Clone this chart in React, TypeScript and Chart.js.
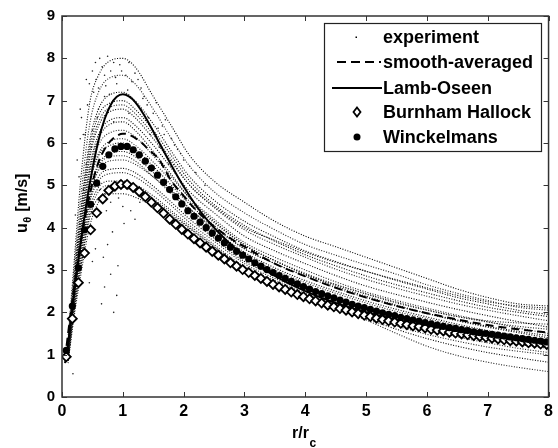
import React, { useEffect, useRef } from "react";
import { Chart, registerables } from "chart.js";
Chart.register(...registerables);

// ---------- data ----------
const xTicks = [0, 1, 2, 3, 4, 5, 6, 7, 8];
const yTicks = [0, 1, 2, 3, 4, 5, 6, 7, 8, 9];

// experiment: radial grid of the measured profiles
const rExp = [0.1, 0.2, 0.3, 0.45, 0.6, 0.8, 1.0, 1.2, 1.5, 1.8, 2.1, 2.5, 3, 3.5, 4, 4.5, 5, 5.5, 6, 6.5, 7, 7.5, 8];
const expA = [1.4, 3.2, 5.0, 6.9, 7.6, 7.95, 8.0, 7.8, 7.1, 6.4, 5.7, 5.1, 4.6, 4.15, 3.8, 3.55, 3.3, 3.05, 2.8, 2.55, 2.35, 2.2, 2.15];
const expB = [1.3, 3.0, 4.6, 6.4, 7.2, 7.55, 7.6, 7.4, 6.8, 6.1, 5.45, 4.85, 4.35, 3.95, 3.6, 3.35, 3.12, 2.9, 2.65, 2.45, 2.28, 2.12, 2.05];
const expC = [1.25, 2.8, 4.3, 6.0, 6.8, 7.15, 7.2, 7.0, 6.45, 5.8, 5.2, 4.65, 4.15, 3.78, 3.45, 3.2, 2.97, 2.75, 2.55, 2.35, 2.2, 2.05, 1.95];
const expD = [1.2, 2.7, 4.1, 5.7, 6.5, 6.85, 6.9, 6.7, 6.2, 5.6, 5.0, 4.48, 3.95, 3.6, 3.3, 3.02, 2.78, 2.57, 2.38, 2.2, 2.05, 1.92, 1.8];
const expE = [1.15, 2.6, 3.9, 5.4, 6.2, 6.55, 6.6, 6.42, 5.95, 5.4, 4.85, 4.35, 3.8, 3.45, 3.15, 2.87, 2.62, 2.42, 2.24, 2.07, 1.92, 1.78, 1.65];
const expF = [1.1, 2.5, 3.7, 5.2, 5.95, 6.25, 6.3, 6.15, 5.7, 5.2, 4.7, 4.2, 3.65, 3.3, 3.0, 2.72, 2.48, 2.28, 2.1, 1.93, 1.78, 1.63, 1.5];
const expG = [1.05, 2.4, 3.55, 5.0, 5.7, 5.95, 6.0, 5.85, 5.45, 5.0, 4.55, 4.05, 3.5, 3.15, 2.85, 2.58, 2.35, 2.15, 1.97, 1.8, 1.65, 1.52, 1.4];
const expH = [1.0, 2.3, 3.4, 4.8, 5.45, 5.68, 5.7, 5.58, 5.2, 4.8, 4.38, 3.9, 3.35, 3.0, 2.7, 2.45, 2.22, 2.02, 1.85, 1.68, 1.54, 1.42, 1.3];
const expI = [0.95, 2.2, 3.25, 4.6, 5.2, 5.38, 5.4, 5.3, 4.98, 4.6, 4.2, 3.75, 3.2, 2.88, 2.58, 2.33, 2.1, 1.9, 1.72, 1.56, 1.43, 1.31, 1.2];
const expJ = [0.9, 2.1, 3.1, 4.4, 4.95, 5.1, 5.1, 5.02, 4.75, 4.4, 4.05, 3.6, 3.08, 2.75, 2.45, 2.2, 1.98, 1.78, 1.58, 1.42, 1.28, 1.15, 1.05];
const expK = [0.85, 2.0, 2.95, 4.2, 4.7, 4.8, 4.8, 4.72, 4.5, 4.2, 3.9, 3.48, 2.98, 2.62, 2.32, 2.07, 1.85, 1.6, 1.38, 1.2, 1.05, 0.93, 0.82];
const expL = [0.8, 1.9, 2.8, 4.0, 4.6, 4.9, 4.95, 4.85, 4.6, 4.3, 3.98, 3.55, 3.05, 2.68, 2.38, 2.1, 1.82, 1.5, 1.2, 0.98, 0.82, 0.7, 0.6];
const expM = [1.2, 2.7, 4.0, 5.6, 6.4, 6.75, 6.8, 6.6, 6.1, 5.55, 5.0, 4.5, 4.0, 3.7, 3.42, 3.18, 2.97, 2.77, 2.58, 2.4, 2.25, 2.15, 2.1];
const expN = [1.0, 2.3, 3.4, 4.7, 5.35, 5.58, 5.6, 5.5, 5.2, 4.85, 4.45, 4.0, 3.5, 3.15, 2.88, 2.65, 2.43, 2.22, 2.05, 1.9, 1.8, 1.75, 1.72];
const expO = [1.1, 2.5, 3.8, 5.3, 6.1, 6.45, 6.5, 6.3, 5.8, 5.25, 4.7, 4.15, 3.6, 3.22, 2.9, 2.62, 2.38, 2.17, 1.98, 1.82, 1.67, 1.55, 1.45];
const expP = [1.05, 2.4, 3.6, 5.05, 5.75, 6.05, 6.1, 5.95, 5.55, 5.1, 4.62, 4.12, 3.58, 3.22, 2.92, 2.66, 2.44, 2.24, 2.06, 1.9, 1.77, 1.67, 1.6];
const expQ = [1.0, 2.3, 3.45, 4.85, 5.5, 5.75, 5.8, 5.68, 5.3, 4.88, 4.45, 3.95, 3.42, 3.05, 2.75, 2.5, 2.27, 2.07, 1.89, 1.72, 1.57, 1.45, 1.35];
const expR = [0.95, 2.15, 3.2, 4.55, 5.1, 5.28, 5.3, 5.2, 4.9, 4.52, 4.12, 3.68, 3.15, 2.8, 2.5, 2.24, 2.02, 1.82, 1.64, 1.48, 1.35, 1.24, 1.15];
const expS = [1.2, 2.75, 4.2, 5.85, 6.65, 6.95, 7.0, 6.8, 6.3, 5.7, 5.1, 4.55, 4.05, 3.68, 3.36, 3.1, 2.86, 2.65, 2.46, 2.28, 2.12, 2.0, 1.9];
const expT = [0.9, 2.05, 3.0, 4.3, 4.85, 5.0, 5.0, 4.92, 4.68, 4.35, 4.0, 3.55, 3.03, 2.68, 2.38, 2.12, 1.9, 1.68, 1.48, 1.32, 1.18, 1.08, 1.0];
const expProfiles = [expA, expB, expC, expD, expE, expF, expG, expH, expI, expJ, expK, expL, expM, expN, expO, expP, expQ, expR, expS, expT];

// scattered experiment points (outliers)
const noiseR = [0.25, 0.3, 0.32, 0.35, 0.4, 0.45, 0.5, 0.55, 0.6, 0.62, 0.7, 0.75, 0.8, 0.85, 0.9, 0.95, 1.05, 1.1, 1.15, 1.2,
  1.3, 1.35, 1.4, 1.5, 1.55, 1.65, 1.7, 1.8, 1.9, 2.0, 0.65, 0.7, 0.8, 0.85, 0.9, 0.5, 0.45, 0.55, 0.92, 0.75,
  0.18, 0.6, 0.8, 1.0, 1.2, 0.4, 0.5, 0.6, 0.7, 1.3, 1.1, 0.85, 1.45, 1.6, 1.75, 0.22, 0.28, 0.38, 0.68, 1.02,
  0.42, 0.52, 0.58, 0.66, 0.72, 0.78, 0.88, 0.98, 1.08, 1.18, 1.25, 1.33, 1.42, 1.58, 1.68, 1.85, 1.95, 2.1, 2.2, 2.35,
  0.35, 0.48, 0.63, 0.73, 0.83, 0.93, 1.13, 1.28, 0.3, 0.56];
const noiseV = [5.6, 6.8, 6.6, 4.9, 7.5, 7.4, 7.7, 7.9, 7.3, 8.0, 7.6, 8.05, 7.7, 7.9, 7.4, 7.85, 7.6, 7.9, 7.45, 7.65,
  7.3, 7.1, 6.9, 6.7, 6.95, 6.4, 6.55, 6.1, 5.85, 5.6, 2.2, 2.6, 2.9, 2.0, 2.4, 3.2, 2.7, 3.5, 3.1, 3.6,
  0.55, 4.4, 4.6, 4.5, 4.2, 5.5, 6.3, 6.8, 7.1, 6.8, 6.7, 6.5, 6.2, 5.9, 5.5, 4.3, 5.2, 6.2, 3.3, 4.1,
  6.9, 7.2, 6.6, 7.8, 7.35, 7.15, 7.55, 7.7, 7.25, 7.0, 7.5, 7.05, 6.6, 6.35, 6.2, 5.95, 5.75, 5.45, 5.3, 5.0,
  6.2, 5.9, 4.9, 4.4, 3.9, 4.7, 4.4, 4.6, 6.1, 7.5];

// smooth-averaged
const rAvg = [0.05, 0.1, 0.2, 0.3, 0.4, 0.5, 0.6, 0.7, 0.8, 0.9, 1.0, 1.1, 1.2, 1.3, 1.4, 1.5, 1.6, 1.7, 1.8, 2.0, 2.2, 2.4, 2.6, 2.8, 3.0, 3.5, 4.0, 4.5, 5.0, 5.5, 6.0, 6.5, 7.0, 7.5, 8.0];
const avgV = [0.9, 1.5, 2.6, 3.6, 4.4, 5.05, 5.55, 5.85, 6.05, 6.17, 6.22, 6.2, 6.12, 6.02, 5.88, 5.75, 5.6, 5.35, 5.1, 4.75, 4.42, 4.15, 3.92, 3.72, 3.55, 3.15, 2.85, 2.58, 2.35, 2.15, 1.98, 1.83, 1.7, 1.6, 1.52];

// Lamb-Oseen
const rLO = [0.05, 0.1, 0.2, 0.3, 0.4, 0.5, 0.6, 0.7, 0.8, 0.9, 1.0, 1.1, 1.2, 1.4, 1.6, 1.8, 2.0, 2.2, 2.4, 2.6, 2.8, 3.0, 3.5, 4.0, 4.5, 5.0, 5.5, 6.0, 6.5, 7.0, 7.5, 8.0];
const loV = [0.8, 1.25, 2.45, 3.56, 4.55, 5.38, 6.06, 6.56, 6.9, 7.09, 7.15, 7.1, 6.97, 6.54, 6.0, 5.47, 4.97, 4.53, 4.16, 3.85, 3.57, 3.34, 2.86, 2.5, 2.22, 2.0, 1.82, 1.67, 1.54, 1.43, 1.33, 1.25];

// marker positions for Burnham Hallock and Winckelmans
const rMk = [0.07, 0.17, 0.27, 0.37, 0.47, 0.57, 0.67, 0.77, 0.87, 0.97, 1.07, 1.17, 1.27, 1.37, 1.47, 1.57, 1.67, 1.77, 1.87, 1.97,
  2.07, 2.17, 2.27, 2.37, 2.47, 2.57, 2.67, 2.77, 2.87, 2.97, 3.07, 3.17, 3.27, 3.37, 3.47, 3.57, 3.67, 3.77, 3.87, 3.97,
  4.07, 4.17, 4.27, 4.37, 4.47, 4.57, 4.67, 4.77, 4.87, 4.97, 5.07, 5.17, 5.27, 5.37, 5.47, 5.57, 5.67, 5.77, 5.87, 5.97,
  6.07, 6.17, 6.27, 6.37, 6.47, 6.57, 6.67, 6.77, 6.87, 6.97, 7.07, 7.17, 7.27, 7.37, 7.47, 7.57, 7.67, 7.77, 7.87, 7.97];
const bhV = [0.95, 1.85, 2.7, 3.4, 3.95, 4.35, 4.68, 4.88, 4.98, 5.02, 5.02, 4.95, 4.85, 4.73, 4.6, 4.47, 4.34, 4.2, 4.08, 3.96,
  3.85, 3.74, 3.64, 3.54, 3.44, 3.35, 3.26, 3.17, 3.09, 3.01, 2.94, 2.87, 2.8, 2.73, 2.66, 2.6, 2.54, 2.48, 2.42, 2.37,
  2.32, 2.27, 2.22, 2.17, 2.13, 2.09, 2.05, 2.01, 1.97, 1.93, 1.9, 1.86, 1.83, 1.8, 1.77, 1.74, 1.71, 1.68, 1.66, 1.63,
  1.6, 1.58, 1.56, 1.53, 1.51, 1.49, 1.47, 1.45, 1.43, 1.41, 1.39, 1.37, 1.35, 1.33, 1.32, 1.3, 1.28, 1.27, 1.25, 1.24];
const wiV = [1.1, 2.15, 3.05, 3.95, 4.55, 5.05, 5.45, 5.72, 5.86, 5.92, 5.92, 5.84, 5.72, 5.57, 5.41, 5.24, 5.07, 4.9, 4.73, 4.56,
  4.4, 4.27, 4.13, 4.0, 3.87, 3.75, 3.64, 3.54, 3.44, 3.35, 3.26, 3.17, 3.09, 3.01, 2.94, 2.87, 2.8, 2.73, 2.67, 2.61,
  2.55, 2.49, 2.44, 2.39, 2.34, 2.29, 2.24, 2.19, 2.15, 2.11, 2.07, 2.03, 1.99, 1.95, 1.92, 1.88, 1.85, 1.82, 1.79, 1.76,
  1.73, 1.7, 1.67, 1.64, 1.62, 1.59, 1.57, 1.54, 1.52, 1.5, 1.48, 1.46, 1.44, 1.42, 1.4, 1.38, 1.36, 1.34, 1.32, 1.3];

const legendLabels = ["experiment", "smooth-averaged", "Lamb-Oseen", "Burnham Hallock", "Winckelmans"];
const xTitle = "r/r";
const xTitleSub = "c";
const yTitle = "u";
const yTitleSub = "θ";
const yTitleUnit = " [m/s]";

const FONT = '"Liberation Sans", Arial, sans-serif';

const pts = (xs: number[], ys: number[]) => xs.map((x, i) => ({ x, y: ys[i] }));

const decorPlugin = {
  id: "decor",
  afterDraw(chart: any) {
    const { ctx, chartArea: a, scales } = chart;
    const xs = scales.x, ys = scales.y;
    ctx.save();
    // frame
    ctx.strokeStyle = "#333";
    ctx.lineWidth = 1.5;
    ctx.strokeRect(a.left, a.top, a.right - a.left, a.bottom - a.top);
    // inward ticks on all four sides
    ctx.lineWidth = 1;
    const tl = 5;
    ctx.beginPath();
    xTicks.forEach((v) => {
      const px = Math.round(xs.getPixelForValue(v)) + 0.5;
      ctx.moveTo(px, a.bottom); ctx.lineTo(px, a.bottom - tl);
      ctx.moveTo(px, a.top); ctx.lineTo(px, a.top + tl);
    });
    yTicks.forEach((v) => {
      const py = Math.round(ys.getPixelForValue(v)) + 0.5;
      ctx.moveTo(a.left, py); ctx.lineTo(a.left + tl, py);
      ctx.moveTo(a.right, py); ctx.lineTo(a.right - tl, py);
    });
    ctx.stroke();

    // legend box
    const lx = 324, ly = 23, lw = 217, lh = 128;
    ctx.fillStyle = "#fff";
    ctx.fillRect(lx, ly, lw, lh);
    ctx.strokeStyle = "#222";
    ctx.lineWidth = 1.2;
    ctx.strokeRect(lx + 0.5, ly + 0.5, lw, lh);
    const rowY = [37, 62, 88, 112, 137];
    ctx.fillStyle = "#000";
    ctx.font = `bold 18px ${FONT}`;
    ctx.textBaseline = "middle";
    ctx.textAlign = "left";
    legendLabels.forEach((t, i) => ctx.fillText(t, 383, rowY[i] + 1));
    // samples
    ctx.fillStyle = "#000";
    ctx.fillRect(355.5, rowY[0] - 0.5, 1.5, 1.5);
    ctx.strokeStyle = "#000";
    ctx.lineWidth = 2;
    ctx.setLineDash([9, 5]);
    ctx.beginPath(); ctx.moveTo(337, rowY[1]); ctx.lineTo(381, rowY[1]); ctx.stroke();
    ctx.setLineDash([]);
    ctx.beginPath(); ctx.moveTo(332, rowY[2]); ctx.lineTo(382, rowY[2]); ctx.stroke();
    // diamond
    ctx.lineWidth = 1.8;
    ctx.fillStyle = "#fff";
    ctx.beginPath();
    ctx.moveTo(357, rowY[3] - 4.5); ctx.lineTo(360.5, rowY[3]); ctx.lineTo(357, rowY[3] + 4.5); ctx.lineTo(353.5, rowY[3]); ctx.closePath();
    ctx.fill(); ctx.stroke();
    // circle
    ctx.fillStyle = "#000";
    ctx.beginPath(); ctx.arc(357, rowY[4], 3.5, 0, Math.PI * 2); ctx.fill();

    // axis titles
    ctx.fillStyle = "#000";
    ctx.textBaseline = "alphabetic";
    ctx.font = `bold 16px ${FONT}`;
    ctx.textAlign = "left";
    ctx.fillText(xTitle, 292, 438);
    const w1 = ctx.measureText(xTitle).width;
    ctx.font = `bold 12px ${FONT}`;
    ctx.fillText(xTitleSub, 292 + w1 + 0.5, 447);

    ctx.translate(27, 233);
    ctx.rotate(-Math.PI / 2);
    ctx.font = `bold 16px ${FONT}`;
    ctx.fillText(yTitle, 0, 0);
    const wu = ctx.measureText(yTitle).width;
    ctx.font = `bold 11px ${FONT}`;
    ctx.fillText(yTitleSub, wu + 0.5, 4);
    const wt = ctx.measureText(yTitleSub).width;
    ctx.font = `bold 16px ${FONT}`;
    ctx.fillText(yTitleUnit, wu + wt + 1, 0);
    ctx.restore();
  },
};

export default function App() {
  const ref = useRef<HTMLCanvasElement | null>(null);
  useEffect(() => {
    document.body.style.margin = "0";
    const canvas = ref.current!;
    const expSets = expProfiles.map((p, i) => ({
      label: "exp" + i,
      data: pts(rExp, p),
      showLine: true,
      borderColor: i % 2 === 0 ? "#000" : "#222",
      borderWidth: 1.1,
      borderDash: [1, 1.6],
      pointRadius: 0,
      cubicInterpolationMode: "monotone" as const,
      order: 10,
    }));
    const chart = new Chart(canvas, {
      type: "scatter",
      data: {
        datasets: [
          ...expSets,
          {
            label: "experiment-noise",
            data: pts(noiseR, noiseV),
            pointRadius: 0.8,
            pointBackgroundColor: "#222",
            pointBorderWidth: 0,
            order: 9,
          } as any,
          {
            label: legendLabels[1],
            data: pts(rAvg, avgV),
            showLine: true,
            borderColor: "#000",
            borderWidth: 2,
            borderDash: [8, 5],
            pointRadius: 0,
            cubicInterpolationMode: "monotone",
            order: 4,
          },
          {
            label: legendLabels[2],
            data: pts(rLO, loV),
            showLine: true,
            borderColor: "#000",
            borderWidth: 2,
            pointRadius: 0,
            cubicInterpolationMode: "monotone",
            order: 3,
          },
          {
            label: legendLabels[3],
            data: pts(rMk, bhV),
            pointStyle: "rectRot",
            pointRadius: 4.5,
            pointBorderWidth: 1.8,
            pointBorderColor: "#000",
            pointBackgroundColor: "#fff",
            order: 2,
          },
          {
            label: legendLabels[4],
            data: pts(rMk, wiV),
            pointStyle: "circle",
            pointRadius: 3.6,
            pointBorderWidth: 0,
            pointBackgroundColor: "#000",
            order: 1,
          },
        ],
      },
      options: {
        responsive: false,
        animation: false,
        devicePixelRatio: 1,
        layout: { padding: { top: 15, right: 5, left: 0, bottom: 0 } },
        plugins: { legend: { display: false }, tooltip: { enabled: false } },
        scales: {
          x: {
            type: "linear",
            min: 0,
            max: 8,
            afterFit: (s: any) => { s.height = 51; },
            afterBuildTicks: (s: any) => { s.ticks = xTicks.map((v) => ({ value: v })); },
            grid: { display: false, drawTicks: false },
            border: { display: false },
            ticks: { padding: 5, color: "#000", font: { family: FONT, size: 16, weight: "bold" } },
          },
          y: {
            type: "linear",
            min: 0,
            max: 9,
            afterFit: (s: any) => { s.width = 62; },
            afterBuildTicks: (s: any) => { s.ticks = yTicks.map((v) => ({ value: v })); },
            grid: { display: false, drawTicks: false },
            border: { display: false },
            ticks: { padding: 7, color: "#000", font: { family: FONT, size: 15, weight: "bold" } },
          },
        },
      },
      plugins: [decorPlugin],
    });
    return () => chart.destroy();
  }, []);
  return <canvas ref={ref} width={558} height={448} style={{ display: "block" }} />;
}
